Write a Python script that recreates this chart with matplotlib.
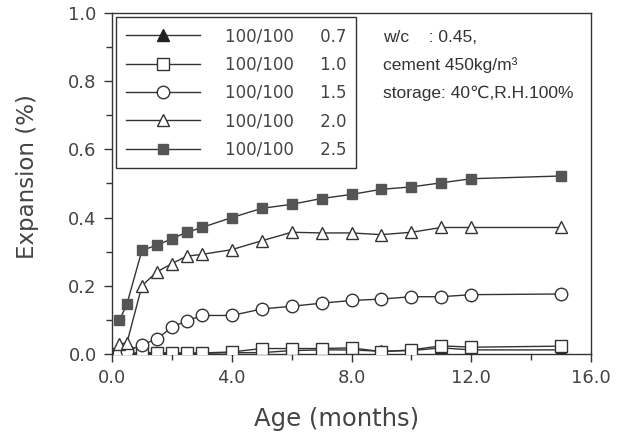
import matplotlib
matplotlib.use("Agg")
import matplotlib.pyplot as plt
from matplotlib.ticker import MultipleLocator, FormatStrFormatter

months = [0.25, 0.5, 1, 1.5, 2, 2.5, 3, 4, 5, 6, 7, 8, 9, 10, 11, 12, 15]

exp_07 = [0.0, 0.0, 0.002, 0.002, 0.002, 0.002, 0.002, 0.004, 0.004, 0.010, 0.012, 0.012, 0.008, 0.010, 0.018, 0.012, 0.012]
exp_10 = [0.0, 0.002, 0.004, 0.004, 0.003, 0.003, 0.003, 0.006, 0.016, 0.016, 0.016, 0.018, 0.007, 0.012, 0.024, 0.020, 0.023]
exp_15 = [0.003, 0.008, 0.027, 0.044, 0.079, 0.097, 0.113, 0.113, 0.132, 0.140, 0.149, 0.157, 0.161, 0.168, 0.168, 0.174, 0.176]
exp_20 = [0.029, 0.033, 0.200, 0.241, 0.265, 0.287, 0.292, 0.306, 0.332, 0.357, 0.355, 0.355, 0.350, 0.357, 0.371, 0.371, 0.371]
exp_25 = [0.099, 0.147, 0.304, 0.319, 0.338, 0.357, 0.371, 0.400, 0.427, 0.439, 0.456, 0.468, 0.483, 0.490, 0.502, 0.514, 0.522]

labels = ["100/100     0.7", "100/100     1.0", "100/100     1.5", "100/100     2.0", "100/100     2.5"]
notes = ["w/c    : 0.45,", "cement 450kg/m\u00b3", "storage: 40\u2103,R.H.100%"]

ink = "#333333"
plt.rcParams['font.family'] = ['DejaVu Sans']

fig = plt.figure(figsize=(6.19, 4.34), dpi=100)
ax = fig.add_axes([112/619, 1-354/434, (591-112)/619, (354-13)/434])

ax.plot(months, exp_07, color=ink, lw=1.0, marker='^', ms=8, mfc='#222222', mec='#222222', label=labels[0], zorder=2)
ax.plot(months, exp_10, color=ink, lw=1.0, marker='s', ms=8, mfc='white', mec=ink, mew=1.0, label=labels[1], zorder=3)
ax.plot(months, exp_15, color=ink, lw=1.0, marker='o', ms=9, mfc='white', mec=ink, mew=1.0, label=labels[2], zorder=3)
ax.plot(months, exp_20, color=ink, lw=1.0, marker='^', ms=9, mfc='white', mec=ink, mew=1.0, label=labels[3], zorder=3)
ax.plot(months, exp_25, color=ink, lw=1.0, marker='s', ms=7.5, mfc='#555555', mec='#555555', label=labels[4], zorder=3)

ax.set_xlim(0, 16)
ax.set_ylim(0, 1.0)
ax.xaxis.set_major_locator(MultipleLocator(4))
ax.xaxis.set_minor_locator(MultipleLocator(2))
ax.yaxis.set_major_locator(MultipleLocator(0.2))
ax.yaxis.set_minor_locator(MultipleLocator(0.1))
ax.xaxis.set_major_formatter(FormatStrFormatter('%.1f'))
ax.yaxis.set_major_formatter(FormatStrFormatter('%.1f'))
ax.tick_params(which='both', direction='out', color=ink, labelcolor='#444444', labelsize=13, width=1.0)
ax.tick_params(which='major', length=6, pad=5)
ax.tick_params(which='minor', length=4)
for s in ax.spines.values():
    s.set_color(ink)
    s.set_linewidth(1.0)

ax.set_xlabel('Age (months)', fontsize=17.5, color='#444444')
ax.set_ylabel('Expansion (%)', fontsize=16.5, color='#444444')
ax.xaxis.set_label_coords(0.468, -0.155)
ax.yaxis.set_label_coords(-0.152, 0.52)

leg = ax.legend(loc='upper left', bbox_to_anchor=(0.008, 0.988), borderaxespad=0,
                fontsize=12, handlelength=4.45, labelspacing=0.62, handletextpad=1.5,
                borderpad=0.6, fancybox=False, framealpha=1, edgecolor=ink)
leg.get_frame().set_linewidth(1.0)
for t in leg.get_texts():
    t.set_color('#444444')

for i, n in enumerate(notes):
    ax.text(0.565, 0.928 - i*0.082, n, transform=ax.transAxes, fontsize=12.5,
            family=['Liberation Sans', 'DejaVu Sans'], color='#333333', va='center', ha='left')

fig.savefig('out.png', dpi=100)
